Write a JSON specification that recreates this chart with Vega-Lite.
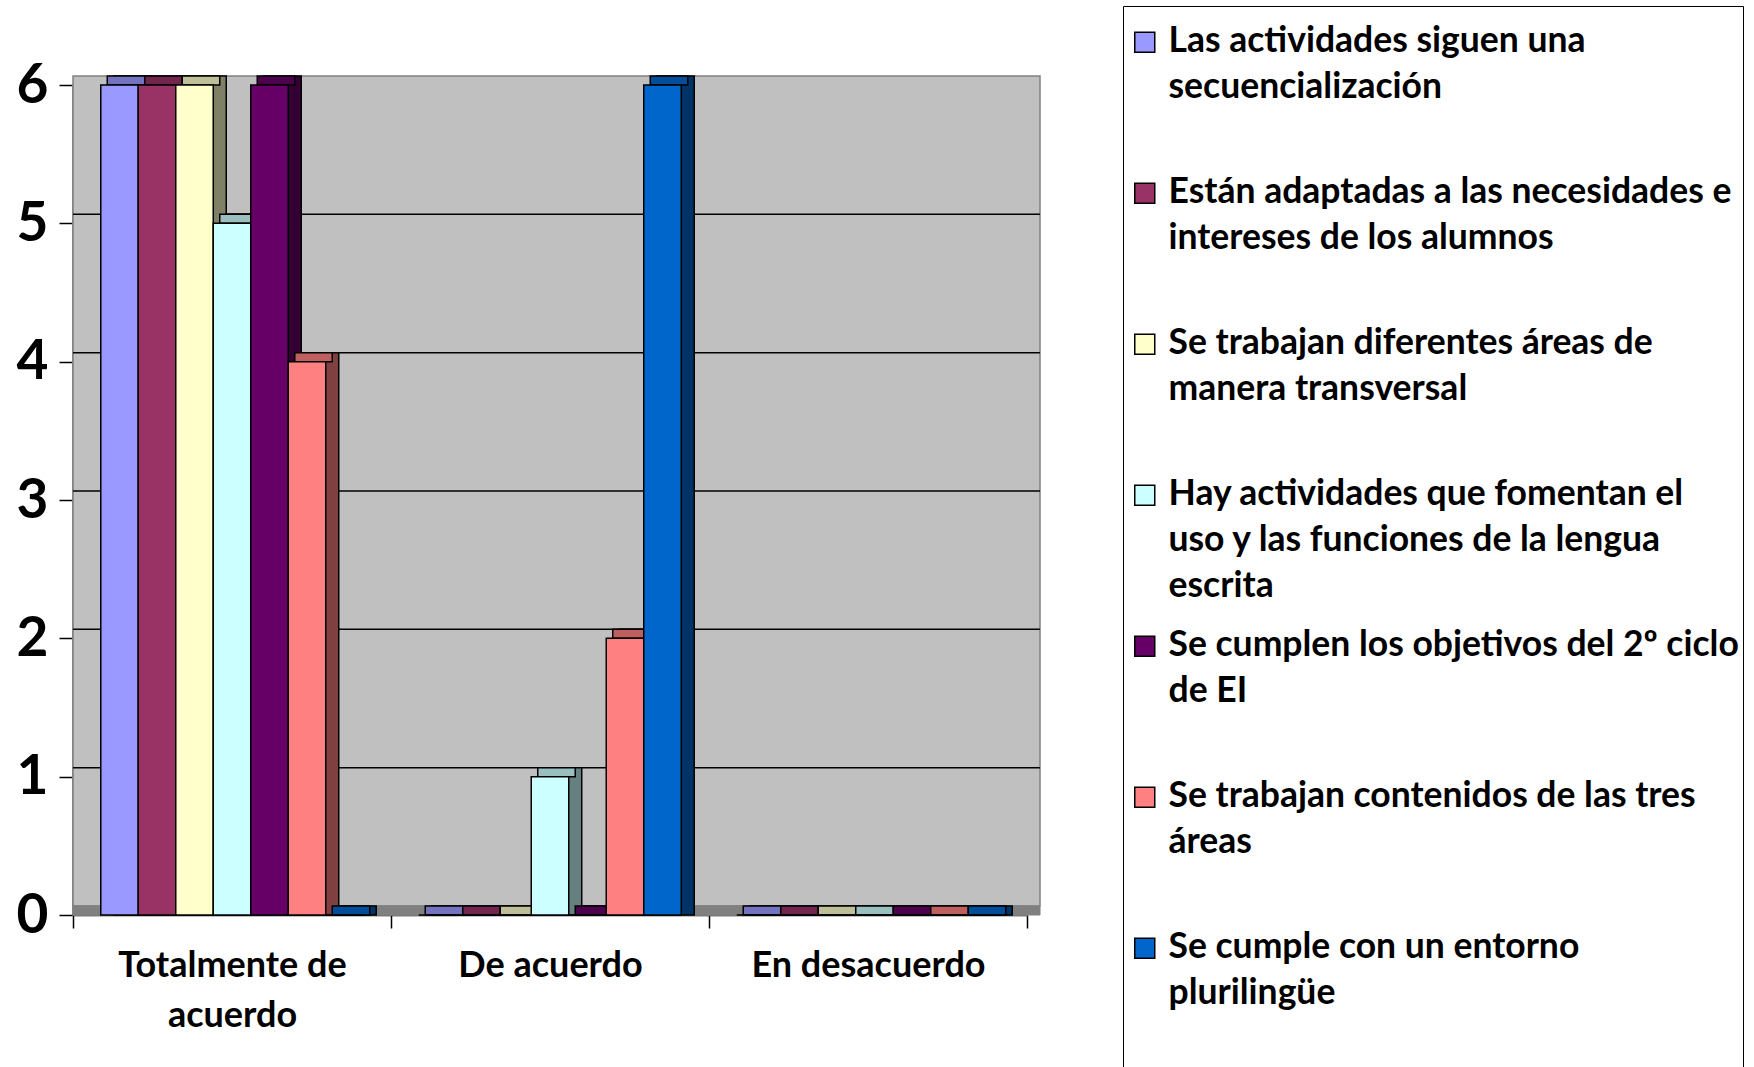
{
  "$schema": "https://vega.github.io/schema/vega-lite/v6.json",
  "width": 954,
  "height": 830,
  "autosize": {"type": "none"},
  "padding": {"left": 73, "top": 85, "right": 727, "bottom": 152},
  "background": "white",
  "config": {
    "view": {"stroke": null},
    "style": {"guide-label": {"lineHeight": 46}}
  },
  "data": {"values": [
    {"cat": "Totalmente de acuerdo", "i": 1, "s": "Las actividades siguen una secuencialización", "v": 6},
    {"cat": "Totalmente de acuerdo", "i": 2, "s": "Están adaptadas a las necesidades e intereses de los alumnos", "v": 6},
    {"cat": "Totalmente de acuerdo", "i": 3, "s": "Se trabajan diferentes áreas de manera transversal", "v": 6},
    {"cat": "Totalmente de acuerdo", "i": 4, "s": "Hay actividades que fomentan el uso y las funciones de la lengua escrita", "v": 5},
    {"cat": "Totalmente de acuerdo", "i": 5, "s": "Se cumplen los objetivos del 2º ciclo de EI", "v": 6},
    {"cat": "Totalmente de acuerdo", "i": 6, "s": "Se trabajan contenidos de las tres áreas", "v": 4},
    {"cat": "Totalmente de acuerdo", "i": 7, "s": "Se cumple con un entorno plurilingüe", "v": 0},
    {"cat": "De acuerdo", "i": 1, "s": "Las actividades siguen una secuencialización", "v": 0},
    {"cat": "De acuerdo", "i": 2, "s": "Están adaptadas a las necesidades e intereses de los alumnos", "v": 0},
    {"cat": "De acuerdo", "i": 3, "s": "Se trabajan diferentes áreas de manera transversal", "v": 0},
    {"cat": "De acuerdo", "i": 4, "s": "Hay actividades que fomentan el uso y las funciones de la lengua escrita", "v": 1},
    {"cat": "De acuerdo", "i": 5, "s": "Se cumplen los objetivos del 2º ciclo de EI", "v": 0},
    {"cat": "De acuerdo", "i": 6, "s": "Se trabajan contenidos de las tres áreas", "v": 2},
    {"cat": "De acuerdo", "i": 7, "s": "Se cumple con un entorno plurilingüe", "v": 6},
    {"cat": "En desacuerdo", "i": 1, "s": "Las actividades siguen una secuencialización", "v": 0},
    {"cat": "En desacuerdo", "i": 2, "s": "Están adaptadas a las necesidades e intereses de los alumnos", "v": 0},
    {"cat": "En desacuerdo", "i": 3, "s": "Se trabajan diferentes áreas de manera transversal", "v": 0},
    {"cat": "En desacuerdo", "i": 4, "s": "Hay actividades que fomentan el uso y las funciones de la lengua escrita", "v": 0},
    {"cat": "En desacuerdo", "i": 5, "s": "Se cumplen los objetivos del 2º ciclo de EI", "v": 0},
    {"cat": "En desacuerdo", "i": 6, "s": "Se trabajan contenidos de las tres áreas", "v": 0},
    {"cat": "En desacuerdo", "i": 7, "s": "Se cumple con un entorno plurilingüe", "v": 0}
  ]},
  "layer": [
    {
      "data": {"values": [{"w": 1}]},
      "mark": {"type": "rect", "fill": "#C0C0C0", "stroke": "#808080", "strokeWidth": 1.5},
      "encoding": {
        "y": {"datum": 6, "type": "quantitative", "scale": {"domain": [0, 6], "nice": false}},
        "y2": {"datum": 0}
      }
    },
    {
      "data": {"values": [{"w": 1}]},
      "mark": {"type": "rect", "fill": "#C0C0C0", "stroke": "#808080", "strokeWidth": 1.5, "xOffset": 13, "yOffset": -9, "y2Offset": -9},
      "encoding": {
        "y": {"datum": 6, "type": "quantitative"},
        "y2": {"datum": 0}
      }
    },
    {
      "data": {"values": [{"w": 1}]},
      "mark": {"type": "rect", "fill": "#808080", "stroke": "#808080", "strokeWidth": 1, "yOffset": -9, "y2Offset": 0},
      "encoding": {
        "y": {"datum": 0, "type": "quantitative"},
        "y2": {"datum": 0}
      }
    },
    {
      "data": {"values": [{"w": 1}]},
      "mark": {"type": "rect", "fill": "#808080", "stroke": "#808080", "strokeWidth": 1, "xOffset": 13, "yOffset": -9, "y2Offset": 0},
      "encoding": {
        "y": {"datum": 0, "type": "quantitative"},
        "y2": {"datum": 0}
      }
    },
    {
      "data": {"values": [{"g": 1}, {"g": 2}, {"g": 3}, {"g": 4}, {"g": 5}]},
      "mark": {"type": "rule", "color": "#000000", "strokeWidth": 1.5, "xOffset": 13, "x2Offset": 13, "yOffset": -9},
      "encoding": {
        "y": {"field": "g", "type": "quantitative"}
      }
    },
    {
      "mark": {"type": "bar", "stroke": "#000000", "strokeWidth": 1.5, "yOffset": -9, "y2Offset": -9},
      "encoding": {
        "x": {"field": "cat", "type": "nominal", "sort": null, "scale": {"paddingInner": 0, "paddingOuter": 0}},
        "xOffset": {"field": "i", "type": "ordinal", "scale": {"paddingInner": 0, "paddingOuter": 0.74, "align": 0.734}},
        "y": {"field": "v", "type": "quantitative", "stack": null},
        "fill": {"field": "i", "type": "ordinal", "legend": null, "scale": {"domain": [1, 2, 3, 4, 5, 6, 7], "range": ["#4D4D80", "#4D1A33", "#808066", "#668080", "#330033", "#804040", "#003366"]}}
      }
    },
    {
      "mark": {"type": "bar", "stroke": "#000000", "strokeWidth": 1.5, "yOffset": -9, "y2Offset": 0},
      "encoding": {
        "x": {"field": "cat", "type": "nominal", "sort": null},
        "xOffset": {"field": "i", "type": "ordinal", "scale": {"paddingInner": 0, "paddingOuter": 0.74, "align": 0.617}},
        "y": {"field": "v", "type": "quantitative", "stack": null},
        "y2": {"field": "v"},
        "fill": {"field": "i", "type": "ordinal", "legend": null, "scale": {"domain": [1, 2, 3, 4, 5, 6, 7], "range": ["#7373BF", "#73264D", "#BFBF99", "#99BFBF", "#4D004D", "#BF6060", "#004D99"]}}
      }
    },
    {
      "mark": {"type": "bar", "stroke": "#000000", "strokeWidth": 1.5, "opacity": 1},
      "encoding": {
        "x": {
          "field": "cat", "type": "nominal", "sort": null,
          "axis": {
            "title": null, "labelAngle": 0, "labelAlign": "center", "tickBand": "extent", "tickSize": 13, "tickColor": "#000000", "tickWidth": 1.5,
            "domainColor": "#000000", "domainWidth": 1.5, "labelFont": "Lato", "labelFontWeight": "bold", "labelFontSize": 36,
            "labelColor": "#000000", "labelPadding": 37, "labelLineHeight": 50, "labelLimit": 400,
            "labelExpr": "datum.label == 'Totalmente de acuerdo' ? ['Totalmente de', 'acuerdo'] : datum.label"
          }
        },
        "xOffset": {"field": "i", "type": "ordinal", "scale": {"paddingInner": 0, "paddingOuter": 0.74, "align": 0.5}},
        "y": {
          "field": "v", "type": "quantitative", "stack": null,
          "axis": {
            "title": null, "values": [0, 1, 2, 3, 4, 5, 6], "format": "d", "grid": false, "tickSize": 14, "tickColor": "#000000", "tickWidth": 1.5,
            "domainColor": "#000000", "domainWidth": 1.5, "labelFont": "Lato", "labelFontWeight": "bold", "labelFontSize": 55,
            "labelColor": "#000000", "labelPadding": 11, "labelLineHeight": 55
          }
        },
        "color": {
          "field": "s", "type": "nominal",
          "scale": {
            "domain": [
              "Las actividades siguen una secuencialización",
              "Están adaptadas a las necesidades e intereses de los alumnos",
              "Se trabajan diferentes áreas de manera transversal",
              "Hay actividades que fomentan el uso y las funciones de la lengua escrita",
              "Se cumplen los objetivos del 2º ciclo de EI",
              "Se trabajan contenidos de las tres áreas",
              "Se cumple con un entorno plurilingüe"
            ],
            "range": ["#9999FF", "#993366", "#FFFFCC", "#CCFFFF", "#660066", "#FF8080", "#0066CC"]
          },
          "legend": {
            "title": " ", "titleFontSize": 10, "titlePadding": 14,
            "orient": "none", "legendX": 1050, "legendY": -79,
            "strokeColor": "#000000", "fillColor": "#FFFFFF", "padding": 4,
            "gridAlign": "each", "rowPadding": 22,
            "symbolType": "M-1,-1.95L1,-1.95L1,0.05L-1,0.05Z", "symbolSize": 400,
            "symbolStrokeColor": "#000000", "symbolStrokeWidth": 1.5, "symbolOpacity": 1,
            "labelFont": "Lato", "labelFontWeight": "bold", "labelFontSize": 35.5, "labelColor": "#000000",
            "labelBaseline": "alphabetic", "labelOffset": 6, "labelLimit": 1000,
            "labelExpr": "datum.label == 'Las actividades siguen una secuencialización' ? ['Las actividades siguen una', 'secuencialización', ' '] : datum.label == 'Están adaptadas a las necesidades e intereses de los alumnos' ? ['Están adaptadas a las necesidades e', 'intereses de los alumnos', ' '] : datum.label == 'Se trabajan diferentes áreas de manera transversal' ? ['Se trabajan diferentes áreas de', 'manera transversal', ' '] : datum.label == 'Hay actividades que fomentan el uso y las funciones de la lengua escrita' ? ['Hay actividades que fomentan el', 'uso y las funciones de la lengua', 'escrita'] : datum.label == 'Se cumplen los objetivos del 2º ciclo de EI' ? ['Se cumplen los objetivos del 2º ciclo', 'de EI', ' '] : datum.label == 'Se trabajan contenidos de las tres áreas' ? ['Se trabajan contenidos de las tres', 'áreas', ' '] : datum.label == 'Se cumple con un entorno plurilingüe' ? ['Se cumple con un entorno', 'plurilingüe', ' ', ' '] : datum.label"
          }
        }
      }
    }
  ],
  "resolve": {"scale": {"xOffset": "independent", "fill": "independent"}}
}
